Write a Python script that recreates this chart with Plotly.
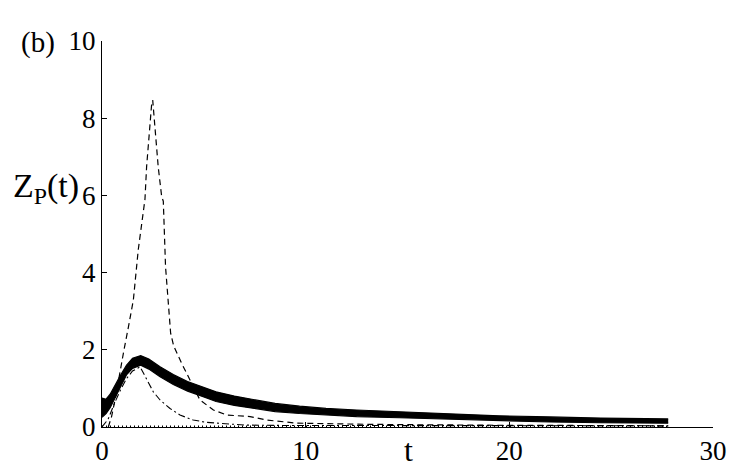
import plotly.graph_objects as go

# Thick solid band (envelope of the noisy thick curve)
solid_t = [0, 0.2, 0.4, 0.6, 0.9, 1.2, 1.5, 1.9, 2.3, 2.85, 3.5, 4.2, 5.0, 5.6, 6.5, 7.3, 8.5, 9.7, 11, 12.5, 14.6, 17, 19.5, 22, 24.5, 27.8]
solid_hi = [0.75, 0.72, 0.85, 1.05, 1.33, 1.6, 1.78, 1.85, 1.76, 1.56, 1.36, 1.18, 1.03, 0.91, 0.8, 0.72, 0.61, 0.54, 0.48, 0.44, 0.39, 0.33, 0.29, 0.26, 0.23, 0.21]
solid_lo = [0.25, 0.35, 0.5, 0.72, 1.05, 1.35, 1.52, 1.6, 1.5, 1.3, 1.1, 0.93, 0.78, 0.66, 0.56, 0.49, 0.4, 0.35, 0.31, 0.27, 0.24, 0.2, 0.17, 0.13, 0.11, 0.1]

# Dashed curve
dash_t = [0.31, 0.47, 0.64, 0.85, 1.08, 1.3, 1.54, 1.78, 1.95, 2.11, 2.19, 2.27, 2.36, 2.44, 2.49, 2.55, 2.76, 2.93, 3.01, 3.12, 3.26, 3.37, 3.52, 3.67, 3.91, 4.32, 4.81, 5.47, 6.12, 7.27, 8.09, 9.56, 11, 13, 15, 17, 19, 21, 23, 25, 27.8]
dash_v = [0, 0.27, 0.7, 1.35, 2.0, 2.6, 3.29, 4.59, 5.2, 5.9, 6.74, 7.26, 8.04, 8.38, 8.47, 8.04, 6.74, 5.97, 5.85, 4.15, 3.29, 2.43, 2.1, 1.91, 1.65, 1.22, 0.7, 0.44, 0.31, 0.27, 0.18, 0.1, 0.08, 0.07, 0.06, 0.05, 0.05, 0.04, 0.04, 0.03, 0.03]

# Dash-dot curve
dashdot_t = [0, 0.3, 0.6, 0.9, 1.2, 1.5, 1.87, 2.19, 2.52, 2.85, 3.34, 3.83, 4.48, 5.14, 6.1, 7.0, 9.0, 12, 15, 20, 27.8]
dashdot_v = [0, 0.2, 0.6, 0.95, 1.25, 1.45, 1.56, 1.22, 0.91, 0.7, 0.48, 0.31, 0.18, 0.12, 0.08, 0.05, 0.04, 0.04, 0.03, 0.03, 0.03]

# Dotted curve (near zero)
dot_t = [0, 27.8]
dot_v = [0.02, 0.02]

x_ticks = [0, 10, 20, 30]
y_ticks = [0, 2, 4, 6, 8, 10]

FONT = "Liberation Serif"

fig = go.Figure()
fig.add_trace(go.Scatter(x=dot_t, y=dot_v, mode="lines",
                         line=dict(color="black", width=1.5, dash="1px,3px")))
fig.add_trace(go.Scatter(x=dashdot_t, y=dashdot_v, mode="lines",
                         line=dict(color="black", width=1.1, dash="7px,3px,2px,3px")))
fig.add_trace(go.Scatter(x=dash_t, y=dash_v, mode="lines",
                         line=dict(color="black", width=1.2, dash="6px,4px")))
fig.add_trace(go.Scatter(x=solid_t, y=solid_lo, mode="lines",
                         line=dict(color="black", width=1.2)))
fig.add_trace(go.Scatter(x=solid_t, y=solid_hi, mode="lines", fill="tonexty",
                         fillcolor="black", line=dict(color="black", width=1.2)))

fig.update_layout(
    width=732, height=470,
    margin=dict(l=102, r=19, t=41, b=43, autoexpand=False),
    paper_bgcolor="white", plot_bgcolor="white",
    showlegend=False,
    font=dict(family=FONT, size=27, color="black"),
    xaxis=dict(range=[0, 30], tickvals=x_ticks, ticks="inside", ticklen=5,
               tickcolor="black", showline=True, linecolor="black", linewidth=1,
               showgrid=False, zeroline=False, automargin=False,
               tickfont=dict(family=FONT, size=27, color="black")),
    yaxis=dict(range=[0, 10], tickvals=y_ticks, ticks="inside", ticklen=5,
               tickcolor="black", showline=True, linecolor="black", linewidth=1,
               showgrid=False, zeroline=False, automargin=False,
               tickfont=dict(family=FONT, size=27, color="black")),
    annotations=[
        dict(text="(b)", xref="paper", yref="paper", x=-0.105, y=0.995,
             xanchor="center", yanchor="middle", showarrow=False,
             font=dict(family=FONT, size=29, color="black")),
        dict(text="Z<sub>P</sub>(t)", xref="paper", yref="paper", x=-0.034, y=0.62,
             xanchor="right", yanchor="middle", showarrow=False,
             font=dict(family=FONT, size=34, color="black")),
        dict(text="t", xref="paper", yref="paper", x=0.502, y=-0.06,
             xanchor="center", yanchor="middle", showarrow=False,
             font=dict(family=FONT, size=32, color="black")),
    ],
)

fig.write_html("out.html", config={"displayModeBar": False},
               post_script="document.body.style.margin='0';document.body.style.overflow='hidden';")
